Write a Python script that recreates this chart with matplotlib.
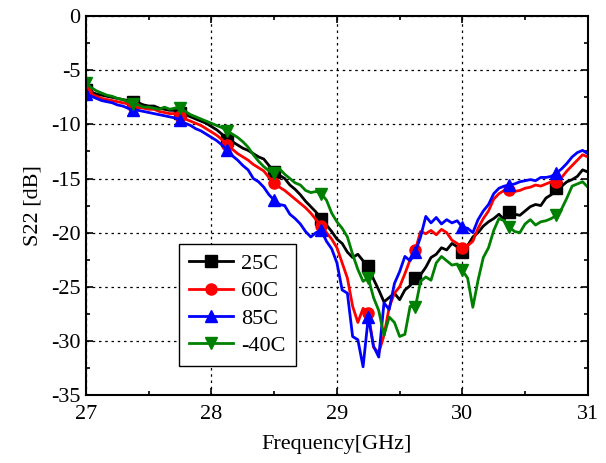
import numpy as np
import matplotlib
matplotlib.use("Agg")
import matplotlib.pyplot as plt
from matplotlib.ticker import MultipleLocator

plt.rcParams['font.family'] = ['Liberation Serif', 'DejaVu Serif']
plt.rcParams['axes.unicode_minus'] = False

# frequency grid, 1/24 GHz step (27 .. 31 GHz)
freq = 27 + np.arange(97) / 24.0

s22_25c = [-6.8, -7.0, -7.2, -7.3, -7.4, -7.5, -7.6, -7.7, -7.8, -7.9,
           -8.0, -8.2, -8.3, -8.3, -8.5, -8.6, -8.7, -8.7, -8.9, -9.1,
           -9.3, -9.5, -9.7, -9.9, -10.2, -10.5, -10.9, -11.4, -11.6, -11.9,
           -12.2, -12.4, -12.7, -13.0, -13.2, -13.8, -14.4, -14.7, -15.0, -15.6,
           -16.0, -16.5, -17.1, -17.6, -18.1, -18.7, -19.3, -19.9, -20.6, -21.0,
           -21.8, -22.3, -22.0, -22.6, -23.1, -24.3, -25.3, -26.4, -26.0, -25.6,
           -26.2, -25.3, -24.9, -24.2, -23.9, -23.2, -22.3, -22.0, -21.4, -21.6,
           -21.0, -21.3, -21.8, -21.2, -20.4, -20.0, -19.4, -19.0, -18.7, -18.3,
           -18.8, -18.1, -18.3, -18.4, -18.0, -17.6, -17.4, -17.5, -16.8, -16.5,
           -15.9, -15.7, -15.3, -15.1, -14.8, -14.2, -14.4]

s22_60c = [-7.0, -7.2, -7.4, -7.6, -7.7, -7.8, -7.9, -8.0, -8.1, -8.3,
           -8.4, -8.5, -8.6, -8.6, -8.8, -8.9, -9.0, -9.0, -9.2, -9.5,
           -9.7, -9.9, -10.1, -10.4, -10.7, -11.0, -11.4, -11.9, -12.3, -12.7,
           -13.0, -13.3, -13.7, -14.0, -14.3, -14.9, -15.4, -15.8, -16.1, -16.5,
           -16.9, -17.3, -17.7, -18.2, -18.8, -19.4, -20.0, -20.6, -21.4, -22.8,
           -24.2, -26.8, -28.3, -27.0, -27.4, -30.6, -31.1, -29.5, -26.9, -25.6,
           -25.0, -23.8, -22.5, -21.6, -19.9, -20.1, -19.8, -20.2, -19.7, -20.0,
           -20.7, -21.0, -21.4, -21.2, -20.8, -19.6, -18.7, -18.0, -16.9, -16.4,
           -16.1, -16.1, -16.2, -16.1, -15.9, -15.8, -15.6, -15.7, -15.5, -15.3,
           -15.3, -14.9, -14.3, -13.8, -13.3, -12.8, -13.0]

s22_85c = [-7.2, -7.4, -7.6, -7.8, -7.9, -8.0, -8.2, -8.3, -8.5, -8.7,
           -8.7, -8.8, -8.9, -9.0, -9.1, -9.2, -9.3, -9.4, -9.6, -9.9,
           -10.1, -10.4, -10.6, -10.9, -11.2, -11.5, -11.9, -12.4, -12.9, -13.3,
           -13.8, -14.2, -15.0, -15.3, -15.8, -16.5, -17.0, -17.4, -17.5, -18.3,
           -18.7, -19.2, -19.9, -20.4, -20.0, -19.8, -20.8, -21.5, -22.8, -25.3,
           -25.6, -29.6, -29.9, -32.4, -27.8, -30.5, -31.5, -26.5, -27.1, -24.7,
           -23.6, -22.2, -22.6, -21.8, -20.4, -18.5, -19.1, -18.6, -19.2, -18.8,
           -19.1, -18.9, -19.5, -19.6, -20.0, -18.8, -18.0, -17.4, -16.4, -15.9,
           -15.7, -15.6, -15.5, -15.3, -15.2, -15.1, -15.2, -14.9, -14.9, -14.8,
           -14.5, -14.1, -13.6, -13.0, -12.6, -12.4, -12.7]

s22_m40c = [-6.2, -6.6, -6.9, -7.1, -7.3, -7.4, -7.6, -7.7, -7.9, -8.1,
            -8.2, -8.4, -8.4, -8.5, -8.6, -8.4, -8.6, -8.5, -8.5, -8.8,
            -9.1, -9.3, -9.5, -9.7, -9.9, -10.1, -10.3, -10.6, -10.9, -11.2,
            -11.6, -12.1, -12.8, -13.4, -13.9, -14.3, -14.5, -14.1, -14.6, -15.0,
            -15.4, -15.6, -16.1, -16.3, -16.2, -16.4, -17.0, -18.2, -19.0, -19.6,
            -20.4, -22.0, -23.4, -24.5, -24.2, -26.0, -27.2, -29.5, -27.8, -28.3,
            -29.6, -29.4, -26.8, -26.9, -24.5, -24.1, -24.4, -22.8, -22.2, -22.6,
            -23.0, -22.9, -23.5, -24.2, -26.9, -24.4, -22.3, -21.4, -19.8, -18.7,
            -18.9, -19.5, -19.9, -20.0, -19.2, -18.8, -19.3, -19.0, -18.9, -18.7,
            -18.4, -17.8, -16.8, -15.7, -15.5, -15.3, -15.8]

labels = ['25C', '60C', '85C', '-40C']
colors = ['black', 'red', 'blue', 'green']
markers = ['s', 'o', '^', 'v']
series = [s22_25c, s22_60c, s22_85c, s22_m40c]

fig = plt.figure(figsize=(6.06, 4.63), dpi=100)
ax = fig.add_axes([0.142, 0.147, 0.828, 0.818])

for ys, lab, c, m in zip(series, labels, colors, markers):
    ax.plot(freq, ys, color=c, lw=2, marker=m, ms=8, markevery=9,
            label=lab)

ax.set_xlim(27, 31)
ax.set_ylim(-35, 0)
ax.xaxis.set_major_locator(MultipleLocator(1))
ax.xaxis.set_minor_locator(MultipleLocator(0.5))
ax.yaxis.set_major_locator(MultipleLocator(5))
ax.yaxis.set_minor_locator(MultipleLocator(2.5))
ax.tick_params(which='both', direction='in', top=True, right=True,
               labelsize=16, width=1.2)
ax.tick_params(which='major', length=5)
ax.tick_params(which='minor', length=3)
ax.tick_params(axis='x', pad=7)
ax.tick_params(axis='y', pad=4)
ax.grid(True, which='major', color='black', ls=(0, (2, 3)), lw=0.9)
for sp in ax.spines.values():
    sp.set_linewidth(1.5)

ax.set_xlabel('Frequency[GHz]', fontsize=16, labelpad=8)
ax.set_ylabel('S22 [dB]', fontsize=16, labelpad=6)

leg = ax.legend(loc='lower left', bbox_to_anchor=(0.185, 0.077),
                borderaxespad=0, fontsize=16, fancybox=False, framealpha=1,
                edgecolor='black', handlelength=2.0, borderpad=0.45,
                labelspacing=0.3, handletextpad=0.35)
leg.get_frame().set_linewidth(1.0)

fig.savefig('out.png', dpi=100)
